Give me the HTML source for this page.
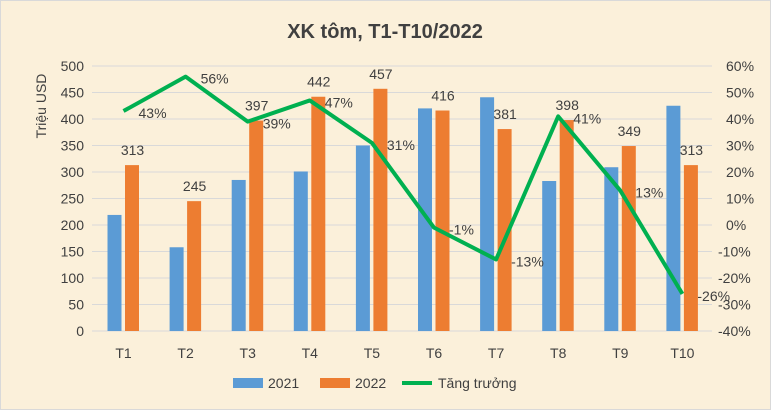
<!DOCTYPE html>
<html><head><meta charset="utf-8"><style>
body{margin:0;background:#fff}
svg{display:block;font-family:"Liberation Sans",sans-serif}
</style></head><body>
<svg width="771" height="410" viewBox="0 0 771 410" xmlns="http://www.w3.org/2000/svg">
<rect x="0.5" y="0.5" width="770" height="409" fill="#fbf0da" stroke="#d9d9d9"/>
<text x="385" y="38" text-anchor="middle" font-size="20" font-weight="bold" fill="#404040">XK tôm, T1-T10/2022</text>
<g stroke="#d9d9d9" stroke-width="1">
<line x1="92" x2="712" y1="66" y2="66"/><line x1="92" x2="712" y1="92.5" y2="92.5"/>
<line x1="92" x2="712" y1="119" y2="119"/><line x1="92" x2="712" y1="145.5" y2="145.5"/>
<line x1="92" x2="712" y1="172" y2="172"/><line x1="92" x2="712" y1="198.5" y2="198.5"/>
<line x1="92" x2="712" y1="225" y2="225"/><line x1="92" x2="712" y1="251.5" y2="251.5"/>
<line x1="92" x2="712" y1="278" y2="278"/><line x1="92" x2="712" y1="304.5" y2="304.5"/>
<line x1="92" x2="712" y1="331" y2="331"/>
</g>
<g font-size="14" fill="#404040" text-anchor="end">
<text x="84" y="71">500</text><text x="84" y="97.5">450</text><text x="84" y="124">400</text>
<text x="84" y="150.5">350</text><text x="84" y="177">300</text><text x="84" y="203.5">250</text>
<text x="84" y="230">200</text><text x="84" y="256.5">150</text><text x="84" y="283">100</text>
<text x="84" y="309.5">50</text><text x="84" y="336">0</text>
</g>
<g font-size="14" fill="#404040" text-anchor="start">
<text x="726" y="71">60%</text><text x="726" y="97.5">50%</text><text x="726" y="124">40%</text>
<text x="726" y="150.5">30%</text><text x="726" y="177">20%</text><text x="726" y="203.5">10%</text>
<text x="726" y="230">0%</text><text x="718" y="256.5">-10%</text><text x="718" y="283">-20%</text>
<text x="718" y="309.5">-30%</text><text x="718" y="336">-40%</text>
</g>
<text transform="translate(46,106) rotate(-90)" font-size="14" fill="#404040" text-anchor="middle">Triệu USD</text>
<script>
var b2021=[219,158,285,301,350,420,441,283,309,425],b2022=[313,245,397,442,457,416,381,398,349,313],
g=[43,56,39,47,31,-1,-13,41,13,-26],ns="http://www.w3.org/2000/svg",svg=document.querySelector('svg'),pts=[];
function el(t,a,txt){var e=document.createElementNS(ns,t);for(var k in a)e.setAttribute(k,a[k]);if(txt)e.textContent=txt;svg.appendChild(e);return e;}
for(var i=0;i<10;i++){var c=123.5+62.1*i;
var h1=b2021[i]*0.53,h2=b2022[i]*0.53;
el('rect',{x:c-16,y:331-h1,width:14,height:h1,fill:'#5b9bd5'});
el('rect',{x:c+1.5,y:331-h2,width:14,height:h2,fill:'#ed7d31'});
el('text',{x:c+9,y:331-h2-10,'font-size':14,fill:'#404040','text-anchor':'middle'},String(b2022[i]));
el('text',{x:c,y:358,'font-size':14,fill:'#404040','text-anchor':'middle'},'T'+(i+1));
var y=66+(60-g[i])*2.65;pts.push(c+','+y);}
el('polyline',{points:pts.join(' '),fill:'none',stroke:'#00b050','stroke-width':4,'stroke-linejoin':'round'});
for(var i=0;i<10;i++){var c=123.5+62.1*i,y=66+(60-g[i])*2.65;
el('text',{x:c+15,y:y+7,'font-size':14,fill:'#404040'},g[i]+'%');}
</script>
<rect x="233" y="378" width="30" height="10" fill="#5b9bd5"/>
<text x="268" y="388" font-size="14" fill="#404040">2021</text>
<rect x="320" y="378" width="30" height="10" fill="#ed7d31"/>
<text x="355" y="388" font-size="14" fill="#404040">2022</text>
<line x1="402" x2="432" y1="383" y2="383" stroke="#00b050" stroke-width="4"/>
<text x="438" y="388" font-size="14" fill="#404040">Tăng trưởng</text>
</svg>
</body></html>
